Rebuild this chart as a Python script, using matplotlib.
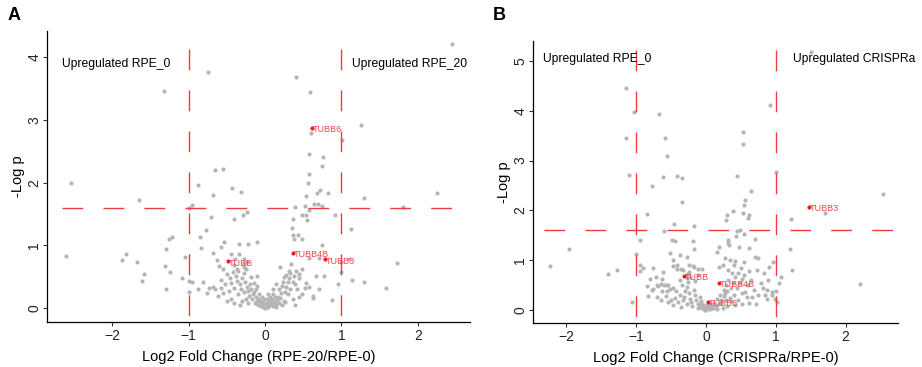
import numpy as np
import matplotlib
matplotlib.use('Agg')
import matplotlib.pyplot as plt

# panel A: log2 FC (RPE-20/RPE-0) vs -log p
a_pts = np.array([
    # left side / outliers
    (-0.74, 3.76), (-1.32, 3.46), (-2.54, 2.00), (-1.65, 1.72), (-0.66, 2.20), (-0.55, 2.22),
    (-0.88, 1.96), (-0.68, 1.80), (-0.43, 1.92), (-0.31, 1.85), (-0.95, 1.65), (-1.00, 1.59),
    (-0.23, 1.53), (-0.29, 1.49), (-0.41, 1.42), (-0.71, 1.45), (-0.77, 1.24), (-0.85, 1.14),
    (-1.22, 1.13), (-1.25, 1.10), (-1.29, 0.94), (-0.84, 0.96), (-0.53, 1.05), (-0.58, 0.98),
    (-0.34, 1.02), (-0.22, 1.02), (-0.10, 1.05), (-2.60, 0.83), (-1.82, 0.86), (-1.87, 0.77),
    (-1.67, 0.74), (-1.05, 0.81), (-0.68, 0.88), (-0.63, 0.77), (-0.60, 0.68), (-1.58, 0.55),
    (-1.61, 0.43), (-1.31, 0.67), (-1.24, 0.58), (-1.08, 0.48), (-1.00, 0.44), (-0.95, 0.41),
    (-1.30, 0.31), (-0.99, 0.26), (-0.88, 0.31), (-0.81, 0.42), (-0.73, 0.32), (-0.68, 0.34),
    (-0.76, 0.25), (-0.44, 0.87), (-0.39, 0.79), (-0.34, 0.86), (-0.28, 0.79), (-0.24, 0.74),
    (-0.28, 0.66), (-0.37, 0.63), (-0.41, 0.69),
    # right side / outliers
    (2.44, 4.22), (0.41, 3.69), (0.59, 3.44), (0.60, 2.80), (1.26, 2.92), (1.01, 2.68),
    (0.58, 2.46), (0.76, 2.41), (0.75, 2.26), (0.58, 2.14), (0.56, 2.00), (0.54, 1.79),
    (0.72, 1.89), (0.68, 1.83), (0.83, 1.83), (1.29, 1.75), (2.25, 1.84), (1.81, 1.62),
    (0.39, 1.61), (0.52, 1.63), (0.64, 1.66), (0.69, 1.66), (0.74, 1.63), (0.58, 1.56),
    (0.49, 1.49), (0.54, 1.48), (0.55, 1.40), (0.92, 1.48), (0.36, 1.42), (1.13, 1.26),
    (0.35, 1.28), (0.37, 1.17), (0.43, 1.17), (0.38, 1.10), (0.49, 1.10), (0.74, 1.00),
    (0.58, 0.80), (0.71, 0.80), (1.72, 0.72), (1.00, 0.73), (0.67, 0.51), (0.77, 0.51),
    (0.99, 0.58), (1.14, 0.45), (1.29, 0.41), (0.95, 0.39), (1.58, 0.32), (0.54, 0.40),
    (0.57, 0.34), (0.70, 0.30), (0.63, 0.20), (0.63, 0.16), (0.87, 0.13), (1.10, 0.79),
    (-0.10, 0.52),
    # left arm of the V
    (-0.55, 0.62), (-0.50, 0.55), (-0.57, 0.45), (-0.46, 0.48), (-0.52, 0.38), (-0.42, 0.58),
    (-0.38, 0.52), (-0.44, 0.40), (-0.36, 0.44), (-0.40, 0.33), (-0.33, 0.38), (-0.30, 0.48),
    (-0.28, 0.56), (-0.26, 0.42), (-0.31, 0.30), (-0.24, 0.34), (-0.35, 0.22), (-0.27, 0.26),
    (-0.22, 0.28), (-0.20, 0.38), (-0.18, 0.30), (-0.16, 0.22), (-0.21, 0.20), (-0.25, 0.15),
    (-0.14, 0.26), (-0.12, 0.18), (-0.17, 0.14), (-0.10, 0.12), (-0.13, 0.09), (-0.08, 0.15),
    (-0.06, 0.08), (-0.09, 0.05), (-0.04, 0.06), (-0.05, 0.03), (-0.02, 0.02), (-0.45, 0.15),
    (-0.40, 0.08), (-0.30, 0.12), (-0.22, 0.08), (-0.62, 0.20), (-0.55, 0.25), (-0.50, 0.12),
    (-0.33, 0.05), (-0.15, 0.40), (-0.12, 0.30), (-0.08, 0.22), (-0.47, 0.28), (-0.58, 0.33),
    (-0.65, 0.30), (-0.35, 0.60), (-0.25, 0.62), (-0.18, 0.50), (-0.10, 0.36), (-0.28, 0.70),
    # bottom of the V
    (0.00, 0.01), (0.02, 0.03), (0.04, 0.02), (0.06, 0.05), (0.01, 0.06), (-0.03, 0.10),
    (0.03, 0.09), (0.08, 0.08), (0.05, 0.12), (0.10, 0.04), (0.12, 0.10), (0.09, 0.15),
    (0.14, 0.06), (0.16, 0.13), (0.13, 0.18), (0.18, 0.09), (0.20, 0.16), (0.07, 0.18),
    (-0.01, 0.14), (0.11, 0.22), (0.03, 0.15), (-0.06, 0.12), (0.15, 0.02), (0.22, 0.05),
    (0.25, 0.12),
    # right arm of the V
    (0.20, 0.66), (0.31, 0.60), (0.40, 0.60), (0.34, 0.71), (0.27, 0.53), (0.32, 0.48),
    (0.45, 0.48), (0.36, 0.42), (0.24, 0.42), (0.15, 0.39), (0.11, 0.31), (0.04, 0.23),
    (-0.04, 0.18), (0.17, 0.18), (0.26, 0.26), (0.33, 0.31), (0.39, 0.39), (0.48, 0.23),
    (0.36, 0.14), (0.39, 0.05), (0.26, 0.10), (0.22, 0.35), (0.18, 0.30), (0.28, 0.34),
    (0.30, 0.22), (0.21, 0.24), (0.42, 0.30), (0.45, 0.55), (0.49, 0.62), (0.52, 0.32),
    (0.44, 0.18), (0.30, 0.42), (0.25, 0.50), (0.38, 0.52), (0.33, 0.56),
])
a_genes = ['TUBB', 'TUBB4B', 'TUBB3', 'TUBB6']
a_gene_fc = [-0.48, 0.36, 0.78, 0.61]
a_gene_logp = [0.75, 0.88, 0.78, 2.88]

# panel B: log2 FC (CRISPRa/RPE-0) vs -log p
b_pts = np.array([
    # left side / outliers
    (-1.15, 4.45), (-1.03, 3.97), (-0.67, 3.94), (-1.15, 3.45), (-0.59, 3.46), (-0.56, 3.10),
    (-1.10, 2.72), (-0.62, 2.68), (-0.42, 2.69), (-0.35, 2.65), (-0.78, 2.48), (-0.34, 2.17),
    (-0.85, 1.92), (-0.46, 1.73), (-0.17, 1.69), (-0.61, 1.58), (-0.95, 1.40), (-0.49, 1.41),
    (-0.44, 1.38), (-0.19, 1.38), (-1.96, 1.22), (-0.52, 1.15), (-0.37, 1.10), (-0.28, 1.07),
    (-0.17, 1.23), (-1.01, 1.13), (-2.24, 0.88), (-1.40, 0.72), (-1.28, 0.80), (-0.95, 0.90),
    (-0.90, 0.85), (-0.95, 0.78), (-0.76, 0.84), (-0.81, 0.63), (-0.72, 0.67), (-1.06, 0.17),
    (-0.47, 1.01), (-0.48, 0.89), (-0.41, 0.90), (-0.63, 0.62), (-0.64, 0.53), (-0.56, 0.50),
    (-0.36, 0.83), (-0.24, 0.90), (-0.18, 0.86), (-0.06, 0.83), (-0.28, 0.72), (-0.27, 0.65),
    (-0.84, 0.48), (-0.77, 0.41), (-0.70, 0.50),
    # right side / outliers
    (1.51, 5.17), (0.91, 4.12), (0.53, 3.57), (0.53, 3.33), (1.00, 2.78), (0.45, 2.69),
    (2.53, 2.32), (0.64, 2.38), (0.56, 2.21), (0.54, 2.10), (1.71, 1.95), (0.39, 1.99),
    (0.30, 1.91), (0.53, 1.95), (0.62, 1.91), (0.60, 1.84), (0.29, 1.80), (1.22, 1.82),
    (0.44, 1.59), (0.49, 1.61), (0.43, 1.49), (0.55, 1.52), (0.70, 1.43), (1.23, 0.81),
    (1.20, 1.22), (2.21, 0.52), (1.07, 0.66), (1.04, 0.55),
    # left part of the V
    (-0.41, 0.83), (-0.19, 0.89), (-0.11, 0.83), (-0.12, 0.71), (-0.23, 0.67), (-0.16, 0.59),
    (-0.38, 0.60), (-0.35, 0.51), (-0.28, 0.47), (-0.54, 0.51), (-0.47, 0.45), (-0.43, 0.38),
    (-0.83, 0.29), (-0.76, 0.42), (-0.69, 0.48), (-0.61, 0.51), (-0.63, 0.39), (-0.57, 0.29),
    (-0.56, 0.38), (-0.51, 0.42), (-0.38, 0.30), (-0.31, 0.27), (-0.23, 0.23), (-0.16, 0.30),
    (-0.09, 0.27), (-0.40, 0.16), (-0.28, 0.13), (-0.21, 0.16), (-0.11, 0.13), (-0.04, 0.10),
    (0.00, 0.07), (0.05, 0.13), (-0.50, 0.20), (-0.45, 0.25), (-0.33, 0.20), (-0.25, 0.35),
    (-0.18, 0.40), (-0.30, 0.38), (-0.14, 0.20), (-0.07, 0.18), (-0.20, 0.08), (-0.12, 0.05),
    (-0.06, 0.04), (-0.02, 0.02), (-0.65, 0.20), (-0.55, 0.16), (-0.48, 0.10), (-0.36, 0.07),
    (-0.70, 0.27), (-0.26, 0.57), (-0.33, 0.80), (-0.62, 0.76), (-0.24, 0.77),
    # right part of the V
    (0.32, 1.41), (0.32, 1.35), (0.33, 1.31), (0.19, 1.26), (0.16, 1.16), (0.47, 1.27),
    (0.62, 1.25), (0.70, 1.06), (0.75, 1.04), (0.55, 0.96), (0.96, 0.96), (0.90, 0.87),
    (0.83, 0.75), (0.73, 0.80), (0.61, 0.78), (0.46, 0.74), (0.27, 1.04), (0.34, 1.00),
    (0.42, 0.99), (0.18, 0.87), (0.24, 0.90), (0.32, 0.80), (0.37, 0.74), (0.42, 0.67),
    (0.89, 0.60), (0.81, 0.44), (0.87, 0.41), (0.94, 0.37), (1.00, 0.39), (0.99, 0.23),
    (0.88, 0.22), (0.72, 0.12), (0.56, 0.37), (0.58, 0.27), (0.66, 0.27), (0.46, 0.20),
    (0.51, 0.34), (0.27, 0.34), (0.34, 0.24), (0.22, 0.14), (0.94, 0.31), (1.01, 0.17),
    (0.05, 0.05), (0.08, 0.10), (0.10, 0.04), (0.12, 0.15), (0.14, 0.08), (0.16, 0.22),
    (0.18, 0.12), (0.20, 0.30), (0.22, 0.20), (0.25, 0.40), (0.26, 0.28), (0.28, 0.50),
    (0.30, 0.38), (0.32, 0.60), (0.35, 0.45), (0.38, 0.55), (0.40, 0.30), (0.29, 0.20),
    (0.36, 0.18), (0.44, 0.45), (0.48, 0.55), (0.52, 0.62), (0.55, 0.70), (0.50, 0.85),
    (0.40, 0.90), (0.60, 0.50), (0.65, 0.60), (0.68, 0.40), (0.75, 0.30), (0.78, 0.55),
    (0.85, 0.30), (0.62, 0.15), (0.52, 0.12), (0.42, 0.10), (0.30, 0.08), (0.24, 0.05),
    (0.15, 0.02),
    # bottom of the V
    (-0.08, 0.06), (-0.05, 0.08), (-0.03, 0.03), (0.00, 0.01), (0.02, 0.04), (0.03, 0.08),
    (-0.10, 0.10), (0.06, 0.02), (0.08, 0.04), (-0.07, 0.14), (0.01, 0.11), (0.10, 0.07),
    (-0.01, 0.00),
])
b_genes = ['TUBB', 'TUBB4B', 'TUBB6', 'TUBB3']
b_gene_fc = [-0.31, 0.18, 0.03, 1.48]
b_gene_logp = [0.69, 0.54, 0.16, 2.07]

plt.rcParams['font.family'] = ['Liberation Sans', 'DejaVu Sans']
plt.rcParams['lines.scale_dashes'] = False

GREY = '#b5b5b5'
RED = '#f03c3c'


def volcano(ax, pts, genes, g_fc, g_logp, xlim, ylim, hspan, vspan,
            left_txt, right_txt, txt_y, xlabel, yticks):
    ax.scatter(pts[:, 0], pts[:, 1], s=9, color=GREY, linewidths=0, zorder=2)
    # dashes start at the top of the vertical lines
    for xv in (-1, 1):
        ax.plot([xv, xv], vspan[::-1], color=RED, lw=1.0, dashes=(15, 14.5), zorder=3)
    ax.plot(hspan, [1.6, 1.6], color=RED, lw=1.0, dashes=(15, 14.5), zorder=3)
    ax.scatter(g_fc, g_logp, s=9, color='#ee1c24', linewidths=0, zorder=4)
    for g, x, y in zip(genes, g_fc, g_logp):
        ax.text(x + 0.01, y - 0.03, g, color='#f5454a', fontsize=6.5,
                ha='left', va='center', zorder=5)
    ax.text(left_txt[0], txt_y, left_txt[1], fontsize=8.7, ha='left', va='center')
    ax.text(right_txt[0], txt_y, right_txt[1], fontsize=8.7, ha='left', va='center')
    ax.set_xlim(*xlim)
    ax.set_ylim(*ylim)
    ax.set_xticks([-2, -1, 0, 1, 2])
    ax.set_yticks(yticks)
    for s in ('top', 'right'):
        ax.spines[s].set_visible(False)
    for s in ('left', 'bottom'):
        ax.spines[s].set_linewidth(0.9)
    ax.tick_params(length=3, width=0.8, color='#333333', labelsize=10,
                   labelcolor='#222222', pad=2)
    ax.tick_params(axis='y', labelrotation=90, pad=1)
    for lab in ax.get_yticklabels():
        lab.set_va('center')
    ax.set_xlabel(xlabel, fontsize=10.5, labelpad=5)
    ax.set_ylabel('-Log p', fontsize=10.5, labelpad=2)


fig = plt.figure(figsize=(9.22, 3.67), dpi=100)
ax_a = fig.add_axes([47 / 922, 1 - 322 / 367, 423 / 922, 291 / 367])
ax_b = fig.add_axes([533 / 922, 1 - 323 / 367, 365 / 922, 282 / 367])

volcano(ax_a, a_pts, a_genes, a_gene_fc, a_gene_logp,
        (-2.85, 2.68), (-0.22, 4.42), (-2.65, 2.55), (-0.18, 4.13),
        (-2.65, 'Upregulated RPE_0'), (1.14, 'Upregulated RPE_20'), 3.9,
        'Log2 Fold Change (RPE-20/RPE-0)', [0, 1, 2, 3, 4])
volcano(ax_b, b_pts, b_genes, b_gene_fc, b_gene_logp,
        (-2.48, 2.75), (-0.26, 5.4), (-2.32, 2.75), (-0.2, 5.22),
        (-2.34, 'Upregulated RPE_0'), (1.24, 'Upregulated CRISPRa'), 5.03,
        'Log2 Fold Change (CRISPRa/RPE-0)', [0, 1, 2, 3, 4, 5])

fig.text(8 / 922, 1 - 16 / 367, 'A', fontsize=13, fontweight='bold', va='center', ha='left')
fig.text(493 / 922, 1 - 15 / 367, 'B', fontsize=13, fontweight='bold', va='center', ha='left')

fig.savefig('out.png', dpi=100)
